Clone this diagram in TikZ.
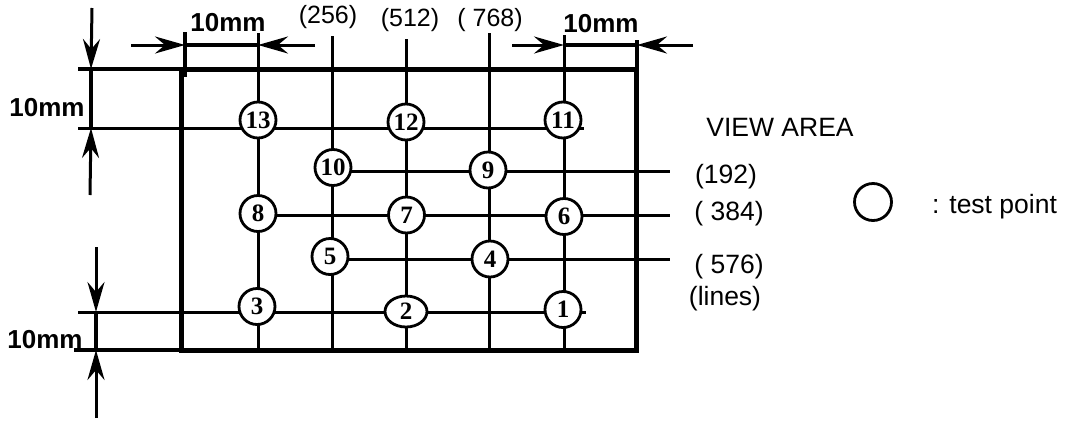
\documentclass[tikz,border=0pt]{standalone}
\usepackage{fontspec}
\setmainfont{Liberation Sans}
\newfontfamily\tpfont{Liberation Serif}
\usetikzlibrary{arrows.meta,shapes.geometric}
\begin{document}
\begin{tikzpicture}[x=1pt,y=-1pt,
  tp/.style={circle, draw, fill=white, line width=2.8pt, minimum size=36pt, inner sep=0pt, font=\tpfont\bfseries\fontsize{25}{25}\selectfont},
  tpe/.style={ellipse, draw, fill=white, line width=2.8pt, minimum width=42pt, minimum height=31pt, inner sep=0pt, font=\tpfont\bfseries\fontsize{25}{25}\selectfont},
  grid/.style={line width=3pt},
  ext/.style={line width=3.4pt},
  frame/.style={line width=5pt, line join=miter},
  dimarrow/.style={line width=3pt, -{Stealth[length=30pt, width=17pt, inset=10pt]}},
  lab/.style={font=\fontsize{26.5}{26.5}\selectfont, inner sep=0pt},
  clab/.style={font=\fontsize{25}{25}\selectfont, inner sep=0pt},
  blab/.style={font=\bfseries\fontsize{26}{26}\selectfont, inner sep=0pt}
]
\useasboundingbox (0,0) rectangle (1070,421);

% frame
\draw[frame] (181,69) rectangle (636,350);

% grid line end points
\coordinate (c1t) at (258,33);  \coordinate (c1b) at (258,350);
\coordinate (c2t) at (332,36);  \coordinate (c2b) at (332,350);
\coordinate (c3t) at (406,39);  \coordinate (c3b) at (406,350);
\coordinate (c4t) at (489,33);  \coordinate (c4b) at (489,350);
\coordinate (c5t) at (564,35);  \coordinate (c5b) at (564,350);
\coordinate (r1l) at (78,128);  \coordinate (r1r) at (584,128);
\coordinate (r2l) at (333,171); \coordinate (r2r) at (670,171);
\coordinate (r3l) at (258,215); \coordinate (r3r) at (670,215);
\coordinate (r4l) at (330,259); \coordinate (r4r) at (670,259);
\coordinate (r5l) at (78,312);  \coordinate (r5r) at (586,312);

% columns (x = 256, 512, 768 ...)
\draw[grid] (c1t) -- (c1b);
\draw[grid] (c2t) -- (c2b);
\draw[grid] (c3t) -- (c3b);
\draw[grid] (c4t) -- (c4b);
\draw[grid] (c5t) -- (c5b);
% rows (192, 384, 576 lines)
\draw[grid] (r1l) -- (r1r);
\draw[grid] (r2l) -- (r2r);
\draw[grid] (r3l) -- (r3r);
\draw[grid] (r4l) -- (r4r);
\draw[grid] (r5l) -- (r5r);

% test points
\node[tp] (n13) at (258,120) {13};
\node[tp] (n12) at (406,122) {12};
\node[tp] (n11) at (563,120) {11};
\node[tp] (n10) at (333,167.5) {10};
\node[tp] (n9)  at (488,170) {9};
\node[tp] (n8)  at (258,213.5) {8};
\node[tp] (n7)  at (406.5,215) {7};
\node[tp] (n6)  at (564,216.5) {6};
\node[tp] (n5)  at (330,256.5) {5};
\node[tp] (n4)  at (490,259) {4};
\node[tp] (n3)  at (257,306.5) {3};
\node[tpe] (n2) at (406,311.5) {2};
\node[tp] (n1)  at (563,309.5) {1};

% extension lines left
\coordinate (e1l) at (78,69);  \coordinate (e1r) at (181,69);
\coordinate (e2l) at (74,350); \coordinate (e2r) at (181,350);
\draw[ext] (e1l) -- (e1r);
\draw[ext] (e2l) -- (e2r);

% left vertical dimension (top)
\coordinate (a1s) at (92,8);   \coordinate (a1e) at (91,69);
\coordinate (a1m) at (91,128); \coordinate (a1u) at (90,195);
\draw[dimarrow] (a1s) -- (a1e);
\draw[ext] (a1e) -- (a1m);
\draw[dimarrow] (a1u) -- (a1m);
\node[blab] (d1) at (47,108) {10mm};

% left vertical dimension (bottom)
\coordinate (a2s) at (96,247);  \coordinate (a2e) at (96,312);
\coordinate (a2m) at (96,350);  \coordinate (a2u) at (96,418);
\draw[dimarrow] (a2s) -- (a2e);
\draw[ext] (a2e) -- (a2m);
\draw[dimarrow] (a2u) -- (a2m);
\node[blab] (d2) at (45,340) {10mm};

% top left horizontal dimension
\coordinate (t1s) at (131,45); \coordinate (t1e) at (185,45);
\coordinate (t1m) at (258,45); \coordinate (t1u) at (315,45);
\coordinate (k1t) at (185,32); \coordinate (k1b) at (185,77);
\draw[ext] (k1t) -- (k1b);
\draw[dimarrow] (t1s) -- (t1e);
\draw[ext] (t1e) -- (t1m);
\draw[dimarrow] (t1u) -- (t1m);
\node[blab] (d3) at (228,23) {10mm};

% top right horizontal dimension
\coordinate (t2s) at (512,45); \coordinate (t2e) at (564,45);
\coordinate (t2m) at (637,45); \coordinate (t2u) at (693,45);
\coordinate (k2t) at (637,40); \coordinate (k2b) at (637,72);
\draw[ext] (k2t) -- (k2b);
\draw[dimarrow] (t2s) -- (t2e);
\draw[ext] (t2e) -- (t2m);
\draw[dimarrow] (t2u) -- (t2m);
\node[blab] (d4) at (601,24) {10mm};

% column labels
\node[clab] (l256) at (328,17) {(256)};
\node[clab] (l512) at (410,20) {(512)};
\node[clab] (l768) at (490,20) {( 768)};

% row labels
\node[lab] (va)  at (780,127) {VIEW AREA};
\node[lab] (l192) at (726,177) {(192)};
\node[lab] (l384) at (729,214) {( 384)};
\node[lab] (l576) at (729,267) {( 576)};
\node[lab] (lln) at (725,299) {(lines)};

% legend
\node[circle, draw, line width=2.8pt, minimum size=37pt, inner sep=0pt] (leg) at (873,202) {};
\node[lab, anchor=west] (legt) at (932,207) {: test point};
\end{tikzpicture}
\end{document}
